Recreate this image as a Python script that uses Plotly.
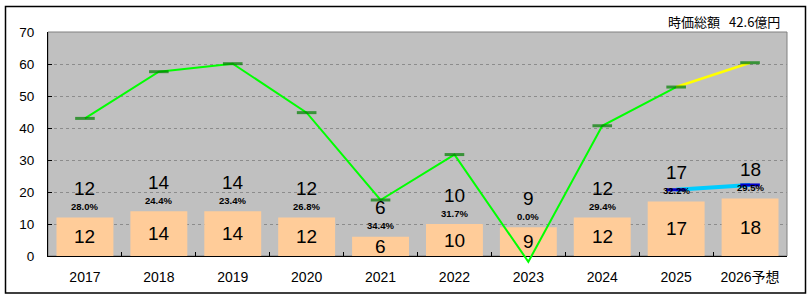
import plotly.graph_objects as go

# ---- data ----
categories = ['2017', '2018', '2019', '2020', '2021', '2022', '2023', '2024', '2025', '2026予想']
bar_values = [12, 14, 14, 12, 6, 10, 9, 12, 17, 18]
pct_labels = ['28.0%', '24.4%', '23.4%', '26.8%', '34.4%', '31.7%', '0.0%', '29.4%', '32.2%', '29.5%']
line_values = [43.0, 57.6, 60.1, 44.8, 17.5, 31.7, -1.8, 40.7, 52.8, 60.4]
forecast_cats = ['2025', '2026予想']
ratio_values = [20.7, 22.2]
title_text = '時価総額\u2002\u200942.6億円'
y_ticks = [0, 10, 20, 30, 40, 50, 60, 70]

W, H = 810, 298
ML, MR, MT, MB = 48, 23, 32, 30
plot_h = H - MT - MB
plot_w = W - ML - MR
main_bottom_px = 256
dom0 = (H - MB - main_bottom_px) / plot_h
ppu = (main_bottom_px - MT) / 70.0
y2_min = -(H - MB - main_bottom_px) / ppu

FONT = 'Liberation Sans, Noto Sans CJK JP, sans-serif'

fig = go.Figure()

fig.add_trace(go.Bar(
    x=categories, y=bar_values, width=0.77,
    marker=dict(color='#FFCC99', line=dict(width=0)),
    xaxis='x', yaxis='y', hoverinfo='skip'))

# forecast ratio line (cyan with blue ticks)
fig.add_trace(go.Scatter(
    x=forecast_cats, y=ratio_values, mode='lines',
    line=dict(color='#00CCFF', width=4), xaxis='x', yaxis='y', hoverinfo='skip'))
fig.add_trace(go.Scatter(
    x=forecast_cats, y=ratio_values, mode='markers',
    marker=dict(symbol='line-ew', size=14, line=dict(color='#0000CC', width=3)),
    xaxis='x', yaxis='y', hoverinfo='skip'))

# green line on overlay subplot (allowed to dip below the axis)
fig.add_trace(go.Scatter(
    x=categories[:-1], y=line_values[:-1], mode='lines',
    line=dict(color='#00FF00', width=2), xaxis='x2', yaxis='y2', hoverinfo='skip'))
fig.add_trace(go.Scatter(
    x=categories[-2:], y=line_values[-2:], mode='lines',
    line=dict(color='#FFFF00', width=2.5), xaxis='x2', yaxis='y2', hoverinfo='skip'))
fig.add_trace(go.Scatter(
    x=categories, y=line_values, mode='markers',
    marker=dict(symbol='line-ew', size=[14 if v >= 0 else 0 for v in line_values],
                line=dict(color='#008000', width=3)),
    xaxis='x2', yaxis='y2', hoverinfo='skip'))

annotations = []
for i, (v, p) in enumerate(zip(bar_values, pct_labels)):
    annotations.append(dict(x=i, y=v / 2, xref='x', yref='y', text=str(v), showarrow=False,
                            font=dict(size=19, color='black', family=FONT), yanchor='middle'))
    annotations.append(dict(x=i, y=v, xref='x', yref='y', text=str(v), showarrow=False, yshift=29,
                            font=dict(size=19, color='black', family=FONT), yanchor='middle'))
    annotations.append(dict(x=i, y=v, xref='x', yref='y', text='<b>' + p + '</b>', showarrow=False,
                            yshift=11, font=dict(size=9.5, color='black', family=FONT), yanchor='middle'))

annotations.append(dict(x=(782 - ML) / plot_w, y=(H - MB - 22) / plot_h, xref='paper', yref='paper',
                        text=title_text, showarrow=False, xanchor='right', yanchor='middle',
                        font=dict(size=13, color='black', family='Noto Sans CJK JP')))

shapes = [
    dict(type='rect', xref='x domain', yref='y domain', x0=0, x1=1, y0=0, y1=1,
         fillcolor='#C0C0C0', line=dict(color='#808080', width=1), layer='below'),
    dict(type='rect', xref='paper', yref='paper',
         x0=(5.5 - ML) / plot_w, x1=(805.5 - ML) / plot_w,
         y0=(H - MB - 293) / plot_h, y1=(H - MB - 6.5) / plot_h,
         line=dict(color='black', width=1.5), fillcolor='rgba(0,0,0,0)', layer='below'),
]

fig.update_layout(
    width=W, height=H,
    margin=dict(l=ML, r=MR, t=MT, b=MB, pad=0),
    paper_bgcolor='white', plot_bgcolor='rgba(0,0,0,0)',
    showlegend=False,
    font=dict(family=FONT, color='black'),
    xaxis=dict(domain=[0, 1], anchor='y', type='category', categoryarray=categories,
               range=[-0.5, 9.5], showline=True, linecolor='black', linewidth=1,
               ticks='inside', tickson='boundaries', ticklen=4, tickcolor='black',
               showgrid=False, tickfont=dict(size=14, family=FONT, color='black'),
               ticklabelstandoff=8),
    yaxis=dict(domain=[dom0, 1], anchor='x', range=[0, 70], tickvals=y_ticks,
               showline=True, linecolor='black', linewidth=1, ticks='inside', ticklen=4,
               tickcolor='black', showgrid=True, gridcolor='#8C8C8C', griddash='3px,3px',
               gridwidth=1, zeroline=False, tickfont=dict(size=13.5, family=FONT, color='black'),
               ticklabelstandoff=10),
    xaxis2=dict(domain=[0, 1], anchor='y2', type='category', categoryarray=categories,
                range=[-0.5, 9.5], visible=False),
    yaxis2=dict(domain=[0, 1], anchor='x2', range=[y2_min, 70], visible=False),
    annotations=annotations, shapes=shapes,
)

fig.write_html('out.html')
